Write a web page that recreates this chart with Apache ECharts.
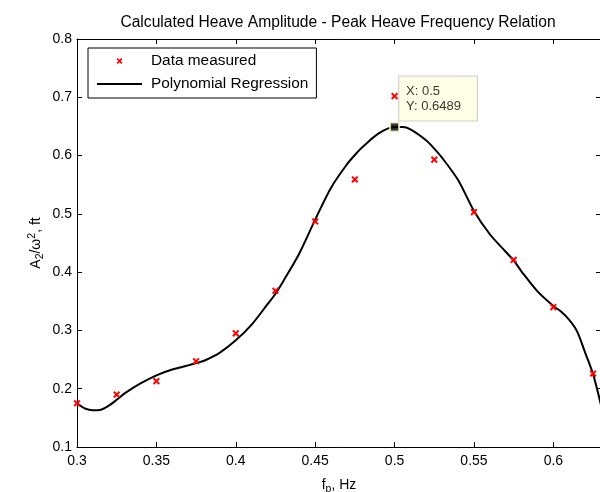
<!DOCTYPE html>
<html>
<head>
<meta charset="utf-8">
<script src="https://cdn.jsdelivr.net/npm/echarts@6/dist/echarts.min.js"></script>
<style>html,body{margin:0;padding:0;background:#fff;}#c{width:600px;height:492px;}</style>
</head>
<body>
<div id="c"></div>
<script>
// Measured data points
var dataX = [0.3, 0.325, 0.35, 0.375, 0.4, 0.425, 0.45, 0.475, 0.5, 0.525, 0.55, 0.575, 0.6, 0.625];
var dataY = [0.175, 0.190, 0.213, 0.247, 0.295, 0.368, 0.487, 0.559, 0.702, 0.593, 0.503, 0.421, 0.340, 0.226];
// Polynomial regression curve
var fitX = [0.3, 0.305, 0.31, 0.315, 0.32, 0.325, 0.33, 0.34, 0.35, 0.36, 0.37, 0.375, 0.38, 0.39, 0.4, 0.41, 0.42, 0.425, 0.43, 0.44, 0.45, 0.46, 0.47, 0.475, 0.48, 0.49, 0.5, 0.505, 0.51, 0.52, 0.525, 0.53, 0.54, 0.55, 0.56, 0.57, 0.575, 0.58, 0.59, 0.6, 0.605, 0.61, 0.615, 0.62, 0.625, 0.63];
var fitY = [0.175, 0.166, 0.163, 0.164, 0.171, 0.181, 0.192, 0.209, 0.223, 0.233, 0.240, 0.244, 0.248, 0.262, 0.283, 0.310, 0.345, 0.363, 0.385, 0.432, 0.490, 0.545, 0.585, 0.601, 0.615, 0.638, 0.6489, 0.649, 0.645, 0.626, 0.612, 0.596, 0.558, 0.505, 0.465, 0.435, 0.420, 0.401, 0.367, 0.342, 0.332, 0.318, 0.298, 0.262, 0.225, 0.172];
// Data tip
var tipX = [0.5];
var tipY = [0.6489];
// Axis ticks
var xTicks = {min: 0.3, max: 0.63, interval: 0.05};
var yTicks = {min: 0.1, max: 0.8, interval: 0.1};

var FONT = 'Liberation Sans, Arial, Helvetica, sans-serif';
var crossPath = 'path://M0,0 M24,24 M7,9 L9,7 L12,10 L15,7 L17,9 L14,12 L17,15 L15,17 L12,14 L9,17 L7,15 L10,12 Z';
var lineIcon = 'path://M0,0 M45,14 M0,6 L45,6 L45,8 L0,8 Z';

var chart = echarts.init(document.getElementById('c'), null, {renderer: 'canvas'});

function pairs(xs, ys) { return xs.map(function (x, i) { return [x, ys[i]]; }); }

var axisCommon = {
  axisLine: {show: true, lineStyle: {color: '#000', width: 1}},
  axisTick: {show: true, inside: true, length: 5, lineStyle: {color: '#000'}},
  splitLine: {show: false}
};

chart.setOption({
  animation: false,
  backgroundColor: '#fff',
  textStyle: {fontFamily: FONT},
  title: {
    text: 'Calculated Heave Amplitude - Peak Heave Frequency Relation',
    left: 333, top: 10, textAlign: 'center',
    textStyle: {fontSize: 15.6, fontWeight: 'normal', color: '#000', fontFamily: FONT}
  },
  legend: {
    data: [
      {name: 'Data measured'},
      {name: 'Polynomial Regression', icon: lineIcon}
    ],
    orient: 'vertical',
    left: 88, top: 48,
    padding: [5, 8, 6, 9],
    itemGap: 7,
    itemWidth: 45, itemHeight: 14,
    borderColor: '#000', borderWidth: 1,
    backgroundColor: '#fff',
    textStyle: {fontSize: 15.4, lineHeight: 16, color: '#000', fontFamily: FONT, padding: [0, 0, 0, 4]}
  },
  grid: {left: 77, right: -1, top: 39, bottom: 45, containLabel: false, outerBoundsMode: 'none'},
  xAxis: [
    Object.assign({
      type: 'value', min: xTicks.min, max: xTicks.max, interval: xTicks.interval,
      name: '{i|f}{sub|p}{i|, Hz}', nameLocation: 'middle', nameGap: 28, nameMoveOverlap: false,
      nameTextStyle: {
        color: '#000', fontFamily: FONT,
        rich: {i: {fontSize: 14, color: '#000', fontFamily: FONT}, sub: {fontSize: 10.5, color: '#000', fontFamily: FONT, verticalAlign: 'bottom', padding: [9, 0, 0, 0]}}
      },
      axisLabel: {color: '#000', fontSize: 14, margin: 7, fontFamily: FONT,
        formatter: function (v) {
          var k = Math.round(v / 0.05);
          return Math.abs(k * 0.05 - v) < 1e-6 ? String(+v.toFixed(2)) : '';
        }}
    }, axisCommon),
    Object.assign({
      type: 'value', position: 'top', min: xTicks.min, max: xTicks.max, interval: xTicks.interval,
      axisLabel: {show: false}
    }, axisCommon)
  ],
  yAxis: [
    Object.assign({
      type: 'value', min: yTicks.min, max: yTicks.max, interval: yTicks.interval,
      name: '{i|A}{sub|2}{i|/ω}{sup|2}{i|, ft}', nameLocation: 'middle', nameGap: 31, nameRotate: 90,
      nameMoveOverlap: false,
      nameTextStyle: {
        color: '#000', fontFamily: FONT,
        rich: {
          i: {fontSize: 14, color: '#000', fontFamily: FONT},
          sub: {fontSize: 10.5, color: '#000', fontFamily: FONT, padding: [9, 0, 0, 0]},
          sup: {fontSize: 10.5, color: '#000', fontFamily: FONT, padding: [0, 0, 8, 0]}
        }
      },
      axisLabel: {color: '#000', fontSize: 14, margin: 5, fontFamily: FONT,
        formatter: function (v) { return String(+v.toFixed(1)); }}
    }, axisCommon),
    Object.assign({
      type: 'value', position: 'right', min: yTicks.min, max: yTicks.max, interval: yTicks.interval,
      axisLabel: {show: false}
    }, axisCommon)
  ],
  series: [
    {
      name: 'Polynomial Regression', type: 'line', data: pairs(fitX, fitY),
      smooth: 0.3, showSymbol: false, symbol: 'none',
      lineStyle: {color: '#000', width: 2}, itemStyle: {color: '#000'},
      z: 2, silent: true
    },
    {
      name: 'Data measured', type: 'scatter', data: pairs(dataX, dataY),
      symbol: crossPath, symbolSize: 17,
      itemStyle: {color: '#ff0000', opacity: 1},
      z: 3, silent: true
    },
    {
      name: 'tip', type: 'scatter', data: pairs(tipX, tipY),
      symbol: 'rect', symbolSize: 9,
      itemStyle: {color: '#000', borderColor: '#ffffcc', borderWidth: 2},
      label: {
        show: true, position: [10, -45],
        formatter: function (p) { return 'X: ' + p.value[0] + '\nY: ' + p.value[1]; },
        color: '#000', fontSize: 13, lineHeight: 15.5, fontFamily: FONT,
        backgroundColor: '#ffffe1', borderColor: '#c8c8c8', borderWidth: 1,
        padding: [7, 16, 6, 7]
      },
      z: 5, silent: true
    }
  ]
});
</script>
</body>
</html>
